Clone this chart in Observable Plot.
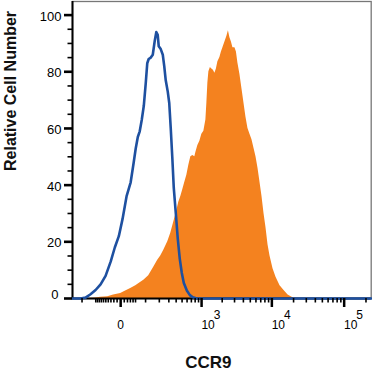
<!DOCTYPE html>
<html>
<head>
<meta charset="utf-8">
<script src="https://cdn.jsdelivr.net/npm/d3@7"></script>
<script src="https://cdn.jsdelivr.net/npm/@observablehq/plot@0.6"></script>
<style>
  html, body { margin: 0; padding: 0; background: #fff; }
  svg { display: block; }
</style>
</head>
<body>
<script>
// Isotype control (blue outline): fluorescence intensity and relative cell number
const isoX = [-300, -213, -170, -133, -101, -74, -51, -31, -17, -5, 5, 17, 31, 42.5, 51, 60, 69, 79, 90, 101, 110, 119, 133, 147, 162, 174, 186, 195, 213, 233, 248, 264, 287, 305, 324, 344, 365, 395, 426, 459, 495, 533, 595, 663, 737, 849, 236000];
const isoY = [0, 0, 0.3, 1.5, 3, 5, 8, 13, 18, 22, 28, 36, 41, 48, 53, 57, 59, 63, 68, 76, 83, 84.5, 85, 86, 91, 94, 93, 89, 88, 86, 82, 77, 73, 69, 60, 50, 39, 30, 21, 14, 9, 5.5, 2.8, 1.2, 0.4, 0, 0];

// CCR9 stained (orange filled)
const ccr9X = [-300, -162, -101, -74, -42, -21, 0, 11, 31, 51, 69, 90, 119, 154, 186, 213, 243, 287, 324, 365, 410, 442, 477, 514, 553, 595, 639, 687, 737, 791, 820, 879, 942, 1009, 1081, 1158, 1198, 1239, 1282, 1349, 1418, 1492, 1569, 1650, 1734, 1854, 1948, 2048, 2188, 2337, 2455, 2579, 2709, 2845, 3038, 3190, 3351, 3576, 3817, 4074, 4348, 4638, 4948, 5279, 5631, 6007, 6407, 6833, 7287, 7771, 8287, 8835, 9422, 10374, 11421, 12981, 14757, 16775, 19057, 21655, 236000];
const ccr9Y = [0, 0, 0.2, 0.4, 0.6, 1.2, 1.8, 2.5, 3.5, 4.5, 5.5, 6.4, 8, 11, 13.5, 15, 17, 20, 23, 27, 31, 34, 36, 38.5, 41, 43.5, 47, 50, 50.5, 50, 51.5, 54, 55.5, 58, 59, 63, 69, 76, 80, 81.5, 81, 80.5, 79.5, 81, 83.5, 85, 87, 88.5, 90.5, 92.5, 94.5, 92, 90.5, 88.5, 88.5, 87, 83, 79, 74, 69, 64, 60, 58, 56, 53, 50, 46, 41, 36, 30, 25, 19, 15, 10.5, 7.5, 4.5, 2.8, 1.2, 0.4, 0, 0];

// Axes
const xDomain = [-300, 236000];
const yDomain = [0, 104.8];
const xMajorTicks = [0, 1000, 10000, 100000];
const xZeroLabel = [0];
const xDecadeTicks = [1000, 10000, 100000];
const xMinorTicks = [-200, -100, -90, -80, -70, -60, -50, -40, -30, -20, -10, 10, 20, 30, 40, 50, 100, 200, 300, 400, 500, 600, 700, 800, 900, 2000, 3000, 4000, 5000, 6000, 7000, 8000, 9000, 20000, 30000, 40000, 50000, 60000, 70000, 80000, 90000, 200000];
const yMajorTicks = [0, 20, 40, 60, 80, 100];
const yLabelTicks = [20, 40, 60, 80, 100];
const yZeroLabel = [0];
const yMinorTicks = [5, 10, 15, 25, 30, 35, 45, 50, 55, 65, 70, 75, 85, 90, 95];
const xTitle = "CCR9";
const yTitle = "Relative Cell Number";

const iso = isoX.map((x, i) => ({x, y: isoY[i]}));
const ccr9 = ccr9X.map((x, i) => ({x, y: ccr9Y[i]}));

const majorLen = 8, minorLen = 4.5;

const chart = Plot.plot({
  width: 372,
  height: 373,
  marginLeft: 72,
  marginRight: 1.3,
  marginTop: 1,
  marginBottom: 75,
  style: {fontFamily: "'Liberation Sans', Arial, Helvetica, sans-serif", fontSize: "13px", background: "#fff"},
  x: {type: "symlog", constant: 83, domain: xDomain},
  y: {domain: yDomain},
  marks: [
    Plot.frame({stroke: "#777", strokeWidth: 1.3}),
    Plot.areaY(ccr9, {x: "x", y: "y", fill: "#f4821f", curve: "linear"}),
    Plot.ruleY([yDomain[0]], {stroke: "#000", strokeWidth: 2}),
    Plot.ruleX([xDomain[0]], {stroke: "#000", strokeWidth: 2}),
    Plot.line(iso, {x: "x", y: "y", stroke: "#1e50a0", strokeWidth: 2.6, curve: "linear"}),
    // x ticks
    Plot.axisX({ticks: xMajorTicks, tickSize: 9, strokeWidth: 2.5, tickFormat: () => "", label: null, stroke: "#000"}),
    Plot.axisX({ticks: xMinorTicks, tickSize: 4.5, strokeWidth: 1.6, tickFormat: () => "", label: null, stroke: "#000"}),
    Plot.axisX({ticks: xZeroLabel, tickSize: 0, tickPadding: 22, fontSize: 12, label: null, tickFormat: d => String(d)}),
    Plot.axisX({ticks: xDecadeTicks, tickSize: 0, tickPadding: 22, fontSize: 12, dx: 6.5, label: null, tickFormat: () => "10"}),
    Plot.axisX({ticks: xDecadeTicks, tickSize: 0, tickPadding: 12, fontSize: 12, dx: 15.5, label: null, tickFormat: d => String(Math.round(Math.log10(d)))}),
    // y ticks: short rules running left from the y axis line
    Plot.ruleY(yMajorTicks, {y: d => d, x1: () => xDomain[0], x2: () => xDomain[0], insetLeft: -majorLen, stroke: "#000", strokeWidth: 2.6}),
    Plot.ruleY(yMinorTicks, {y: d => d, x1: () => xDomain[0], x2: () => xDomain[0], insetLeft: -minorLen, stroke: "#000", strokeWidth: 1.6}),
    // y tick labels
    Plot.axisY({ticks: yLabelTicks, tickSize: 0, tickPadding: 11, fontSize: 13, dy: 1.5, label: null}),
    Plot.axisY({ticks: yZeroLabel, tickSize: 0, tickPadding: 14, fontSize: 13, dy: -4, label: null}),
    // titles
    Plot.text([yTitle], {text: d => d, frameAnchor: "left", rotate: -90, dx: -68, dy: 21, lineAnchor: "top", fontSize: 16, fontWeight: "bold", fill: "#111"}),
    Plot.text([xTitle], {text: d => d, frameAnchor: "bottom", dx: -13.5, dy: 57, lineAnchor: "top", fontSize: 17, fontWeight: "bold", fill: "#111"})
  ]
});
document.body.appendChild(chart);
chart.getBBox();
</script>
</body>
</html>
